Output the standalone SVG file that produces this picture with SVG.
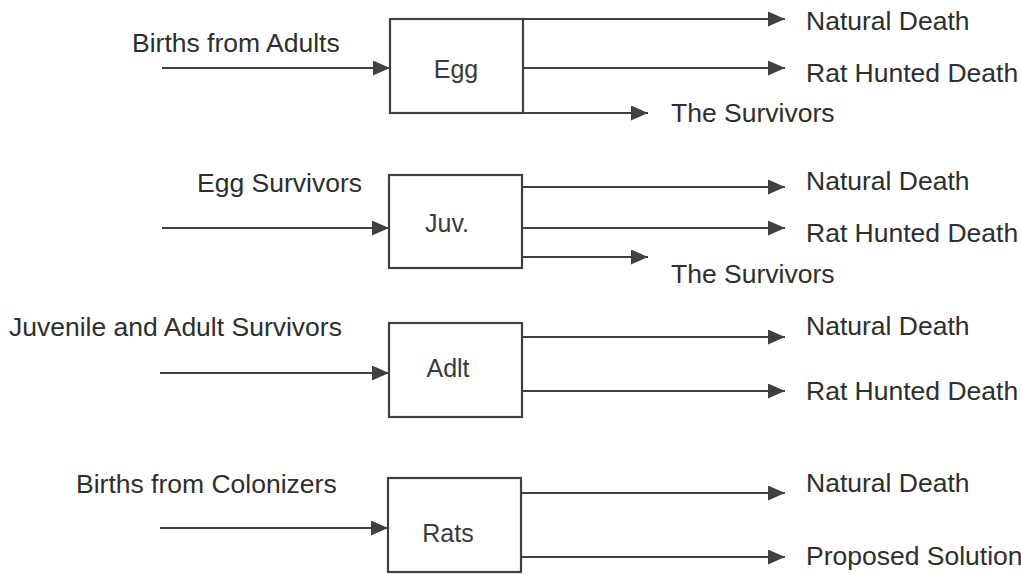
<svg xmlns="http://www.w3.org/2000/svg" width="1021" height="574" viewBox="0 0 1021 574">
<style>
.box{fill:#fff;stroke:#404040;stroke-width:2.2}
.ln{fill:none;stroke:#404040;stroke-width:2;marker-end:url(#ah)}
.t{font-family:"Liberation Sans",Arial,sans-serif;font-size:26.5px;fill:#2e2e2e}
.b{font-family:"Liberation Sans",Arial,sans-serif;font-size:25px;fill:#3a3a3a;text-anchor:middle}
</style>
<defs>
<marker id="ah" viewBox="0 0 17 15" refX="17" refY="7.5" markerWidth="17" markerHeight="15" markerUnits="userSpaceOnUse" orient="auto">
<path d="M0,0 L17,7.5 L0,15 z" fill="#404040"/>
</marker>
</defs>
<rect width="1021" height="574" fill="#fff"/>
<g id="connectors">
<line class="ln" x1="162" y1="68" x2="390" y2="68"/>
<line class="ln" x1="523" y1="19" x2="785" y2="19"/>
<line class="ln" x1="523" y1="68" x2="785" y2="68"/>
<line class="ln" x1="523" y1="113" x2="648" y2="113"/>
<line class="ln" x1="162" y1="228" x2="389" y2="228"/>
<line class="ln" x1="522" y1="187" x2="785" y2="187"/>
<line class="ln" x1="522" y1="228" x2="785" y2="228"/>
<line class="ln" x1="522" y1="257" x2="648" y2="257"/>
<line class="ln" x1="160" y1="373" x2="389" y2="373"/>
<line class="ln" x1="522" y1="337" x2="785" y2="337"/>
<line class="ln" x1="522" y1="391" x2="785" y2="391"/>
<line class="ln" x1="160" y1="528" x2="388" y2="528"/>
<line class="ln" x1="521" y1="493" x2="785" y2="493"/>
<line class="ln" x1="521" y1="557" x2="785" y2="557"/>
</g>
<g id="egg">
<rect class="box" x="390" y="19" width="133" height="94"/>
<text class="b" x="456" y="78">Egg</text>
</g>
<g id="juv">
<rect class="box" x="389" y="175" width="133" height="93"/>
<text class="b" x="447" y="232">Juv.</text>
</g>
<g id="adlt">
<rect class="box" x="389" y="323" width="133" height="94"/>
<text class="b" x="448" y="377">Adlt</text>
</g>
<g id="rats">
<rect class="box" x="388" y="478" width="133" height="94"/>
<text class="b" x="448" y="542">Rats</text>
</g>
<g id="labels">
<text class="t" x="132" y="52">Births from Adults</text>
<text class="t" x="806" y="30">Natural Death</text>
<text class="t" x="806" y="82">Rat Hunted Death</text>
<text class="t" x="671" y="122">The Survivors</text>
<text class="t" x="197" y="192">Egg Survivors</text>
<text class="t" x="806" y="190">Natural Death</text>
<text class="t" x="806" y="242">Rat Hunted Death</text>
<text class="t" x="671" y="283">The Survivors</text>
<text class="t" x="9" y="336">Juvenile and Adult Survivors</text>
<text class="t" x="806" y="335">Natural Death</text>
<text class="t" x="806" y="400">Rat Hunted Death</text>
<text class="t" x="76" y="493">Births from Colonizers</text>
<text class="t" x="806" y="492">Natural Death</text>
<text class="t" x="806" y="565">Proposed Solution</text>
</g>
</svg>
